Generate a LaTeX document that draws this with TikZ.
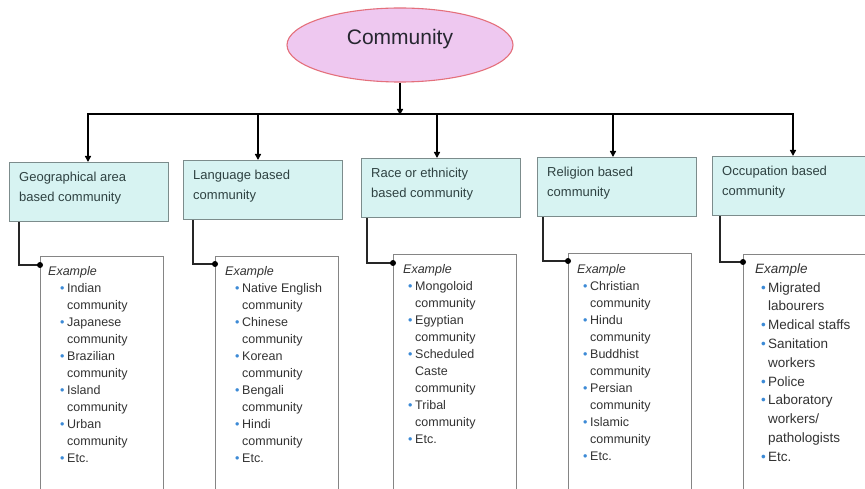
\documentclass[tikz,border=0pt]{standalone}
\usepackage{fontspec}
\setmainfont{Liberation Sans}
\usetikzlibrary{arrows.meta,shapes.geometric}
\definecolor{pinkfill}{HTML}{EEC8F0}
\definecolor{pinkline}{HTML}{E4707C}
\definecolor{cyanfill}{HTML}{D7F3F2}
\definecolor{boxline}{HTML}{7C8C8C}
\definecolor{exline}{HTML}{858585}
\definecolor{bulletblue}{HTML}{3C8AD6}
\definecolor{titletext}{HTML}{262630}
\definecolor{boxtext}{HTML}{2F4242}
\definecolor{extext}{HTML}{333333}
\newlength\bind
\newcommand\itm[1]{\hspace*{\bind}\makebox[7pt][l]{\textcolor{bulletblue}{\textbullet}}#1}
\newcommand\cnt[1]{\hspace*{\bind}\hspace*{7pt}#1}
\newcommand\firstline{\rule{0pt}{10pt}}
\begin{document}
\begin{tikzpicture}[x=1pt,y=-1pt,
  rootnode/.style={ellipse,draw=pinkline,fill=pinkfill,line width=1.1pt,minimum width=226pt,minimum height=74pt,inner sep=0},
  roottext/.style={font=\fontsize{21}{25}\selectfont,text=titletext,anchor=base,inner sep=0},
  catbox/.style={draw=boxline,fill=cyanfill,line width=1.2pt,minimum width=159pt,minimum height=59pt,anchor=north west,inner sep=0},
  cattext/.style={font=\fontsize{13}{20}\selectfont,text=boxtext,align=left,anchor=north west,inner sep=0},
  exbox/.style={draw=exline,line width=0.9pt,minimum width=123pt,minimum height=260pt,anchor=north west,inner sep=0},
  extextstyle/.style={font=\fontsize{12.5}{17}\selectfont,text=extext,align=left,anchor=north west,inner sep=0},
  ind/.style={execute at begin node={\global\bind=#1\relax}},
  arr/.style={line width=1.9pt,-{Triangle[length=6pt,width=6pt]}},
  busline/.style={line width=1.9pt,line cap=rect},
  conn/.style={line width=1.5pt,draw=black!85},
  dotstyle/.style={fill=black,circle,inner sep=0,minimum size=6pt}
]
\useasboundingbox (0,0) rectangle (865,489);
\fill[white] (0,0) rectangle (865,489);
\clip (0,0) rectangle (865,489);

% root
\node[rootnode] (root) at (400,45) {};
\node[roottext] (roottxt) at (400,45) {Community};

% bus
\coordinate (bj1) at (88,114);
\coordinate (bj2) at (258,114);
\coordinate (bj3) at (437,114);
\coordinate (bj4) at (613,114);
\coordinate (bj5) at (793,114);
\draw[arr] (root.south) -- ([yshift=-1pt]root.south |- bj1);
\draw[busline] (bj1) -- (bj5);

% category boxes
\node[catbox] (b1) at (9,162) {};
\node[catbox] (b2) at (183,160) {};
\node[catbox] (b3) at (361,158) {};
\node[catbox] (b4) at (537,157) {};
\node[catbox] (b5) at (712,156) {};

\foreach \i in {1,...,5}{
  \draw[arr] (bj\i) -- (b\i.north -| bj\i);
}

\node[cattext] (t1) at ([xshift=10pt,yshift=-9pt]b1.north west) {\firstline Geographical area\\based community};
\node[cattext] (t2) at ([xshift=10pt,yshift=-9pt]b2.north west) {\firstline Language based\\community};
\node[cattext] (t3) at ([xshift=10pt,yshift=-9pt]b3.north west) {\firstline Race or ethnicity\\based community};
\node[cattext] (t4) at ([xshift=10pt,yshift=-9pt]b4.north west) {\firstline Religion based\\community};
\node[cattext] (t5) at ([xshift=10pt,yshift=-9pt]b5.north west) {\firstline Occupation based\\community};

% example boxes
\node[exbox] (e1) at (40,256) {};
\node[exbox] (e2) at (215,256) {};
\node[exbox] (e3) at (393,254) {};
\node[exbox] (e4) at (568,253) {};
\node[exbox,minimum width=135pt] (e5) at (743,254) {};

% connectors
\coordinate (d1) at (40,265);
\coordinate (d2) at (215,264);
\coordinate (d3) at (393,263);
\coordinate (d4) at (568,261);
\coordinate (d5) at (743,262);
\draw[conn] (b1.south west -| 19,0) |- (d1);
\draw[conn] (b2.south west -| 193,0) |- (d2);
\draw[conn] (b3.south west -| 367,0) |- (d3);
\draw[conn] (b4.south west -| 543,0) |- (d4);
\draw[conn] (b5.south west -| 720,0) |- (d5);
\foreach \i in {1,...,5}{ \node[dotstyle] (dot\i) at (d\i) {}; }

% example texts
\node[extextstyle,ind=12pt] (x1) at (48,265) {\firstline\textit{Example}\\
\itm{Indian}\\ \cnt{community}\\
\itm{Japanese}\\ \cnt{community}\\
\itm{Brazilian}\\ \cnt{community}\\
\itm{Island}\\ \cnt{community}\\
\itm{Urban}\\ \cnt{community}\\
\itm{Etc.}};
\node[extextstyle,ind=10pt] (x2) at (225,265) {\firstline\textit{Example}\\
\itm{Native English}\\ \cnt{community}\\
\itm{Chinese}\\ \cnt{community}\\
\itm{Korean}\\ \cnt{community}\\
\itm{Bengali}\\ \cnt{community}\\
\itm{Hindi}\\ \cnt{community}\\
\itm{Etc.}};
\node[extextstyle,ind=5pt] (x3) at (403,263) {\firstline\textit{Example}\\
\itm{Mongoloid}\\ \cnt{community}\\
\itm{Egyptian}\\ \cnt{community}\\
\itm{Scheduled}\\ \cnt{Caste}\\ \cnt{community}\\
\itm{Tribal}\\ \cnt{community}\\
\itm{Etc.}};
\node[extextstyle,ind=6pt] (x4) at (577,263) {\firstline\textit{Example}\\
\itm{Christian}\\ \cnt{community}\\
\itm{Hindu}\\ \cnt{community}\\
\itm{Buddhist}\\ \cnt{community}\\
\itm{Persian}\\ \cnt{community}\\
\itm{Islamic}\\ \cnt{community}\\
\itm{Etc.}};
\node[extextstyle,ind=6pt,font=\fontsize{13.5}{18.8}\selectfont] (x5) at (755,263) {\firstline\textit{Example}\\
\itm{Migrated}\\ \cnt{labourers}\\
\itm{Medical staffs}\\
\itm{Sanitation}\\ \cnt{workers}\\
\itm{Police}\\
\itm{Laboratory}\\ \cnt{workers/}\\ \cnt{pathologists}\\
\itm{Etc.}};
\end{tikzpicture}
\end{document}
